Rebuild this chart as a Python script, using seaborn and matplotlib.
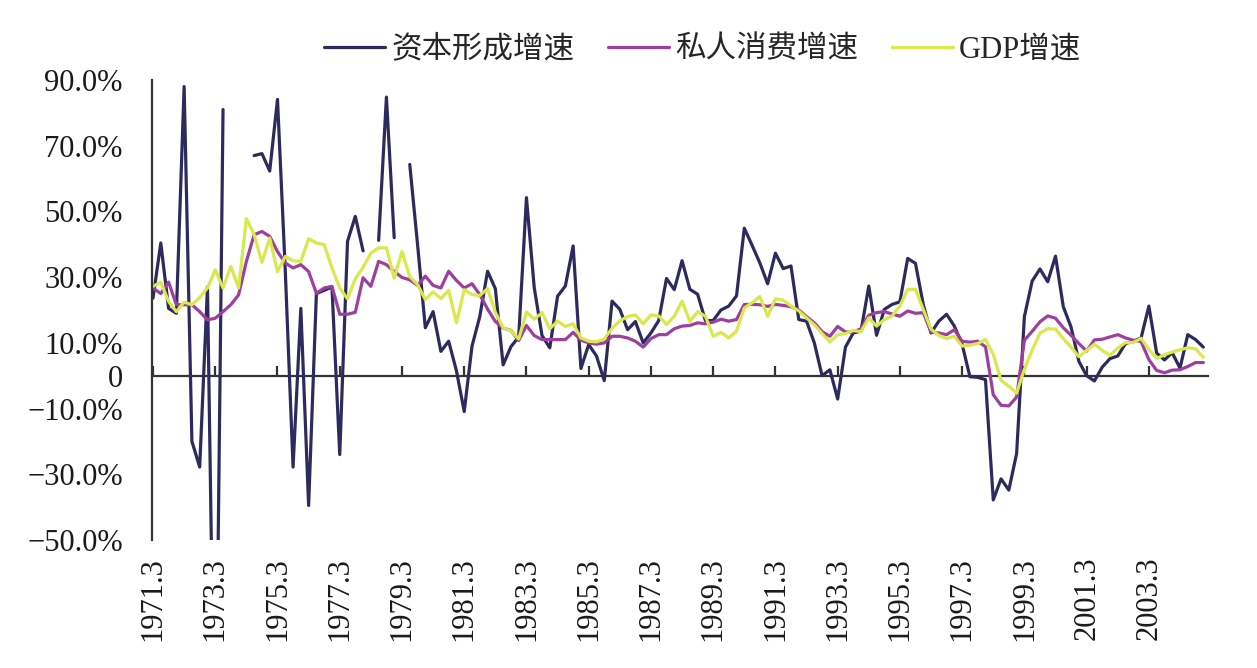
import numpy as np
import pandas as pd
import matplotlib
matplotlib.use("Agg")
import matplotlib.pyplot as plt
from matplotlib.lines import Line2D
from matplotlib.font_manager import FontProperties
import seaborn as sns

nan = np.nan

# quarterly growth rates (%), first quarter is 1971.3
START_YEAR = 1971
START_QUARTER = 3

capital = [
    23.6, 40.4, 20.5, 19.0, 88.0, -20.0, -27.8, 27.0,
    -130.0, 81.0, nan, nan, nan, 67.0, 67.6, 62.3,
    84.1, 32.0, -27.8, 20.5, -39.5, 25.0, 26.0, 27.0,
    -24.0, 40.9, 48.5, 38.0, nan, 41.2, 84.8, 42.0,
    nan, 64.3, 40.0, 14.6, 19.5, 7.4, 10.5, 1.5,
    -10.9, 9.0, 18.0, 31.8, 26.5, 3.3, 8.8, 11.8,
    54.2, 26.8, 12.2, 8.5, 24.2, 27.3, 39.5, 2.2,
    9.5, 6.0, -1.5, 22.7, 20.2, 14.0, 16.5, 10.0,
    13.0, 16.8, 29.6, 26.2, 35.0, 26.3, 24.8, 16.8,
    16.8, 20.0, 21.2, 24.3, 44.9, 39.7, 34.3, 28.0,
    37.3, 32.6, 33.4, 17.1, 16.6, 10.0, 0.0, 1.8,
    -7.1, 8.7, 13.0, 13.6, 27.3, 12.3, 20.2, 21.7,
    22.5, 35.7, 34.2, 21.7, 13.0, 16.6, 18.7, 15.1,
    9.5, -0.3, -0.5, -1.2, -37.8, -31.4, -34.8, -23.7,
    18.0, 28.8, 32.5, 28.6, 36.4, 21.0, 14.8, 4.4,
    0.0, -1.6, 2.6, 5.2, 6.0, 9.8, 10.5, 11.5,
    21.2, 6.9, 4.8, 7.0, 2.3, 12.5, 11.0, 8.7,
]

consumption = [
    26.7, 25.0, 28.5, 21.6, 21.6, 21.6, 19.5, 17.0,
    17.5, 19.5, 21.6, 24.6, 34.8, 42.9, 43.9, 42.4,
    37.8, 34.3, 32.8, 33.8, 31.7, 25.1, 26.7, 27.2,
    18.7, 18.7, 19.3, 29.8, 27.2, 34.8, 33.8, 31.7,
    29.9, 29.2, 27.5, 30.3, 27.5, 26.7, 31.8, 29.0,
    26.7, 28.0, 24.7, 20.3, 16.5, 14.5, 13.8, 10.7,
    15.3, 12.2, 11.0, 11.0, 11.0, 11.0, 13.2, 10.8,
    10.0, 9.6, 10.0, 12.0, 12.0, 11.5, 10.5, 8.7,
    11.3, 12.5, 12.5, 14.3, 15.1, 15.3, 16.1, 15.8,
    16.3, 17.2, 16.6, 17.1, 21.7, 21.7, 21.6, 21.1,
    21.7, 21.4, 21.0, 20.0, 18.0, 16.1, 13.4, 12.0,
    15.0, 13.3, 13.3, 14.3, 18.4, 19.2, 19.5, 18.8,
    18.1, 19.7, 19.0, 19.2, 13.3, 13.0, 12.5, 14.0,
    10.5, 10.2, 10.5, 8.8, -5.8, -9.0, -9.2, -6.5,
    10.8, 13.5, 16.4, 18.2, 17.5, 14.6, 12.3, 9.8,
    7.5, 10.9, 11.1, 11.8, 12.5, 11.5, 10.8, 10.4,
    4.9, 1.6, 0.9, 1.7, 1.8, 2.8, 4.0, 4.0,
]

gdp = [
    27.2, 28.5, 22.6, 19.5, 22.4, 21.6, 23.8, 26.7,
    32.2, 26.7, 33.3, 26.7, 47.8, 42.9, 34.5, 41.9,
    31.7, 36.3, 35.0, 34.8, 41.7, 40.4, 39.9, 32.8,
    26.7, 23.4, 29.5, 33.0, 37.3, 38.9, 38.9, 29.7,
    37.8, 30.2, 27.7, 23.2, 25.5, 23.5, 26.0, 16.1,
    26.2, 24.7, 24.4, 26.5, 19.3, 14.6, 13.7, 11.2,
    19.4, 17.2, 19.2, 14.3, 16.6, 15.0, 15.8, 11.5,
    10.5, 10.3, 11.2, 14.4, 16.7, 18.0, 18.5, 15.8,
    18.5, 18.2, 15.6, 18.1, 22.7, 16.5, 19.5, 18.1,
    12.0, 13.2, 11.5, 13.6, 20.6, 22.2, 24.1, 18.1,
    23.4, 23.0, 21.2, 19.7, 17.6, 15.5, 12.8, 10.3,
    12.5, 12.8, 13.8, 13.4, 17.6, 15.1, 17.1, 18.2,
    21.2, 26.3, 26.3, 20.2, 14.2, 12.3, 11.3, 12.0,
    9.0, 9.3, 9.8, 11.0, 6.5, -1.4, -3.2, -5.3,
    2.0, 7.8, 13.0, 14.3, 14.2, 11.3, 8.7, 5.8,
    7.7, 9.6, 7.7, 6.2, 8.4, 10.1, 10.1, 11.4,
    8.0, 5.2, 6.4, 7.2, 7.9, 8.5, 8.2, 5.6,
]

series_names = ['资本形成增速', '私人消费增速', 'GDP增速']
series_colors = ['#2d2b5e', '#9e3f9f', '#d9e84b']

ytick_values = [90, 70, 50, 30, 10, 0, -10, -30, -50]
ytick_labels = ['90.0%', '70.0%', '50.0%', '30.0%', '10.0%', '0',
                '\u221210.0%', '\u221230.0%', '\u221250.0%']
LABEL_STEP = 8  # one label every two years

# quarter labels like 1971.3
n = len(capital)
quarters = []
year, q = START_YEAR, START_QUARTER
for _ in range(n):
    quarters.append(f"{year}.{q}")
    q += 1
    if q > 4:
        q = 1
        year += 1

# long table, with a segment id so that missing quarters break the line
rows = []
for name, values in zip(series_names, [capital, consumption, gdp]):
    seg = 0
    gap = False
    for i, v in enumerate(values):
        if np.isnan(v):
            gap = True
            continue
        if gap:
            seg += 1
            gap = False
        rows.append((i, v, name, f"{name}_{seg}"))
df = pd.DataFrame(rows, columns=['idx', 'value', 'series', 'segment'])

sns.set_style("white")
plt.rcParams['font.family'] = ['Liberation Serif', 'Noto Sans CJK SC']
plt.rcParams['axes.unicode_minus'] = True

W, H = 1257, 668
fig = plt.figure(figsize=(W / 100, H / 100), dpi=100)
ax = fig.add_axes([152 / W, 1 - 540 / H, (1208 - 152) / W, (540 - 80) / H])

palette = dict(zip(series_names, series_colors))
sns.lineplot(data=df, x='idx', y='value', hue='series', units='segment',
             estimator=None, sort=False, hue_order=series_names,
             palette=palette, linewidth=2.3, legend=False, ax=ax)

ymin, ymax = -50, 90
ax.set_ylim(ymin, ymax)
ax.set_xlim(-0.13, n - 0.4)
ax.set_xlabel('')
ax.set_ylabel('')

ax.set_yticks(ytick_values)
ax.set_yticklabels(ytick_labels)
xticks = list(range(0, n, LABEL_STEP))
ax.set_xticks(xticks)
ax.set_xticklabels([quarters[i] for i in xticks], rotation=90, va='top')

for side in ['top', 'right', 'bottom']:
    ax.spines[side].set_visible(False)
ax.spines['left'].set_color('#333333')
ax.spines['left'].set_linewidth(1.6)

ax.tick_params(axis='y', direction='in', length=8, width=1.6, color='#333333',
               labelsize=22, pad=21, labelcolor='#1a1a1a')
ax.tick_params(axis='x', length=0, labelsize=22, pad=12, labelcolor='#1a1a1a')

# zero line with small upward tick marks
zero_pos = (0 - ymin) / (ymax - ymin)
secax = ax.secondary_xaxis(zero_pos)
secax.set_xticks(xticks)
secax.tick_params(axis='x', direction='in', length=7, width=1.6, color='#333333',
                  labelbottom=False, labeltop=False)
for side in ['top', 'bottom']:
    secax.spines[side].set_color('#333333')
    secax.spines[side].set_linewidth(1.6)

handles = [Line2D([], [], color=c, linewidth=2.3) for c in series_colors]
fig.legend(handles, series_names, loc='center', bbox_to_anchor=(0.559, 0.925),
           ncol=3, frameon=False, handlelength=2.0, handletextpad=0.2,
           columnspacing=1.1,
           prop=FontProperties(family=['Liberation Serif', 'Noto Sans CJK SC'], size=22))

fig.savefig('out.png', dpi=100)
